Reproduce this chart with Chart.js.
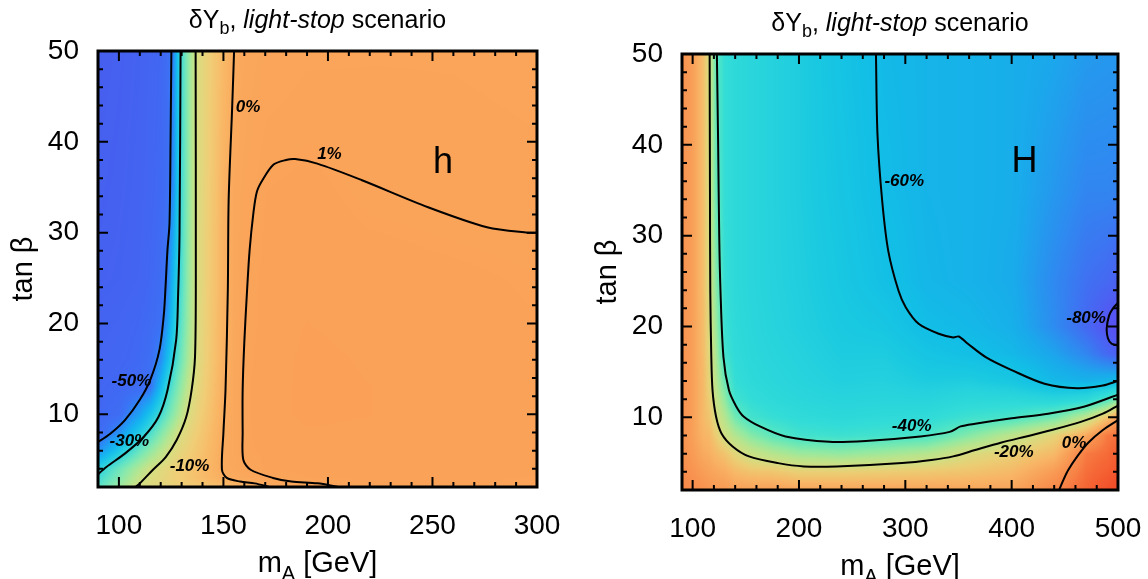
<!DOCTYPE html>
<html>
<head>
<meta charset="utf-8">
<script src="https://cdn.jsdelivr.net/npm/chart.js@4.4.1/dist/chart.umd.min.js"></script>
<style>
  html, body { margin: 0; padding: 0; background: #fff; }
  #wrap { position: relative; width: 1148px; height: 579px; }
  .panel { position: absolute; top: 0; width: 574px; height: 579px; }
</style>
</head>
<body>
<div id="wrap">
  <div class="panel" style="left:0"><canvas id="hChart" width="574" height="579"></canvas></div>
  <div class="panel" style="left:574px"><canvas id="HChart" width="574" height="579"></canvas></div>
</div>
<script>
// ---- Panel h : δY_b grid (%), rows = tan β, columns = m_A ----
const hMass = [90, 100, 110, 115, 120, 123, 126, 129, 132, 135, 138, 142, 146, 150, 155, 160, 170, 190, 220, 260, 300];
const hTanb = [2, 3, 4, 6, 8, 10, 13, 16, 20, 25, 35, 50];
const hDelta = [
  [-26, -17.5, -9.7, -8.9, -8.1, -7.6, -7.1, -6.6, -6.1, -5.6, -5.2, -4.5, -3.9, -3.2, -2.4, -1.6, 0, 0.8, 1.05, 1.06, 1.04],
  [-29.5, -21.3, -12.6, -9.5, -8.2, -7.4, -6.6, -5.9, -5.1, -4.3, -3.5, -2.5, -1.5, -0.4, 0.15, 0.4, 0.85, 1.05, 1.08, 1.07, 1.05],
  [-32.6, -23.9, -15.2, -10.9, -8.8, -7.9, -7.0, -6.1, -5.2, -4.3, -3.4, -2.2, -1.0, 0.15, 0.4, 0.8, 1.08, 1.12, 1.12, 1.1, 1.07],
  [-46, -35.3, -24.5, -19.5, -14.5, -11.5, -9.4, -8.2, -7.0, -5.8, -4.6, -3.1, -1.5, 0.1, 0.5, 1.01, 1.1, 1.15, 1.15, 1.12, 1.08],
  [-53, -45.9, -34.2, -28.2, -21.7, -17.8, -13.9, -10, -8.6, -7.1, -5.7, -3.8, -1.9, 0, 0.5, 1.02, 1.12, 1.17, 1.16, 1.12, 1.08],
  [-53.5, -52, -43.1, -36.2, -29.2, -24.6, -20, -15.4, -10.8, -8.6, -6.9, -4.7, -2.5, -0.3, 0.5, 1.02, 1.14, 1.2, 1.18, 1.13, 1.09],
  [-54, -53.2, -52, -50.3, -38.8, -31.3, -25.7, -20.4, -15.2, -10, -8.1, -5.6, -3.1, -0.6, 0.5, 1.02, 1.14, 1.2, 1.18, 1.13, 1.09],
  [-54.5, -54, -53, -51.3, -46.3, -38.8, -31.3, -24.9, -18.8, -12.7, -8.9, -6.2, -3.6, -1.0, 0.4, 1.0, 1.13, 1.2, 1.17, 1.12, 1.08],
  [-55, -54.5, -53.5, -52.5, -50.8, -44.3, -35.7, -27.7, -20.8, -13.9, -9.1, -6.4, -3.8, -1.2, 0.4, 0.95, 1.12, 1.18, 1.15, 1.1, 1.06],
  [-56, -55.5, -54.5, -53.5, -52, -49.5, -39, -30, -22, -14.4, -9.3, -6.5, -4, -1, 0.5, 0.95, 1.1, 1.15, 1.12, 1.08, 1.04],
  [-56.5, -56, -55, -54, -53, -51.5, -46, -32, -23, -14.7, -9.3, -6.8, -4.2, -1.3, 0.5, 0.8, 1.05, 1.1, 1.0, 0.97, 0.95],
  [-57, -56.5, -55.5, -54.5, -53.5, -52, -47.5, -32, -23, -14.7, -9.3, -7, -4.8, -2.6, 0, 0.5, 0.8, 0.9, 0.92, 0.92, 0.9]
];

// contour lines of panel h, [m_A, tan β]
const hMinus50 = [[89, 6.8], [96, 7.9], [103, 9.4], [110, 11.6], [115, 13.8], [119.4, 17.1], [121.5, 21], [122.3, 24], [123.2, 28], [124.2, 31], [124.7, 40], [125.1, 50]];
const hMinus30 = [[89, 3.2], [94, 4.2], [103, 5.7], [111.8, 7.5], [118.9, 9.7], [123.3, 12.7], [127.4, 18.2], [128.3, 23], [129, 30], [129.5, 50]];
const hMinus10 = [[108, 2], [110, 2.4], [116.3, 3.9], [122.4, 5.3], [127.7, 7.2], [132.2, 9.7], [134.8, 12.7], [136.4, 16.3], [136.8, 25], [136.7, 50]];
const hZero = [[172, 2], [165, 2.4], [158, 2.6], [151.6, 3.0], [149.3, 3.9], [150, 8], [151, 12.7], [152.1, 23.6], [152.5, 33.6], [154.2, 43.9], [155.1, 50]];
const hPlus1 = [[205, 2], [195, 2.4], [182.5, 2.6], [173.7, 3.0], [163, 3.9], [159.5, 5], [159.2, 8], [159.2, 12.7], [160, 18], [161.3, 23.6], [162.5, 28], [164.3, 32.1], [166, 34.5], [168.7, 35.8], [174, 37.5], [179.9, 38], [184.3, 38.1], [194.9, 37.6], [216, 35.8], [247.9, 32.8], [276.1, 30.6], [295.6, 30], [300, 30]];
const hLabelText = ['-50%', '-30%', '-10%', '0%', '1%'];
const hLabelMass = [106, 105, 133.8, 161.8, 200.7];
const hLabelTanb = [13.6, 7.0, 4.3, 43.8, 38.6];

// ---- Panel H : δY_b grid (%), one column per m_A, values over tan β ----
const HMass = [90, 100, 110, 116, 122, 130, 140, 155, 175, 200, 240, 280, 320, 360, 400, 440, 470, 490, 500];
const HTanb = [2, 4, 6, 8, 10, 12, 14, 17, 20, 25, 35, 50];
const HDeltaCols = [
  [-1, -2, -2.5, -3, -3, -3, -3, -3, -3, -3, -3, -3],
  [-2, -3.5, -5, -6, -6, -6, -6, -6, -6, -6, -6, -6],
  [-3, -5.5, -8, -10, -11, -11, -11, -11.5, -11.5, -12, -12, -12],
  [-4, -6.5, -9, -11, -13.5, -15.5, -17, -18, -19, -20, -20, -20],
  [-4.5, -7.5, -11, -15, -19.8, -22.5, -25, -27, -29, -32, -36, -37],
  [-5, -8.5, -13, -20.5, -25.4, -30.4, -35.3, -41.5, -43, -44, -44.5, -44.5],
  [-6, -11, -17, -25.9, -34.5, -42, -44.5, -46, -46.5, -47, -47, -47],
  [-6, -13, -21.8, -31.9, -41.5, -45, -47, -48, -48.5, -49, -49, -49],
  [-6, -13.5, -25.4, -37.3, -44, -47, -48.5, -49.5, -50.3, -50.8, -51, -51],
  [-7, -15.5, -28.9, -41.5, -46, -48.5, -50, -51, -52, -52.5, -53, -53],
  [-7, -15.5, -30.4, -42.5, -47.5, -50, -52, -53.5, -54.5, -55.5, -56.5, -57.5],
  [-7, -15, -28.3, -41.5, -46.5, -49.5, -51.5, -53.5, -56, -58.8, -60.3, -61.2],
  [-7, -14, -25.5, -40, -46, -50, -53.5, -57, -60.2, -62, -62.5, -62.5],
  [-7, -13, -19, -32, -42.5, -48, -53, -59.2, -61.5, -63, -63, -63],
  [-7, -11, -15.5, -24.2, -40.4, -48, -55.5, -61.5, -63.5, -64.5, -64, -64],
  [-0.8, -5, -11, -16.5, -34.4, -49.7, -61.5, -66, -70, -70.5, -68, -65.5],
  [4, 2.5, 1, -7.9, -24, -47.6, -63, -71, -76, -74.5, -71, -67.5],
  [8, 5, 3, 1.2, -13, -40, -62, -76, -80.5, -76, -71, -68],
  [10, 7, 5, 2.5, -5, -33.3, -61, -78, -81.5, -77.5, -71.5, -68]
];

const HMinus20 = [[116, 50], [116.3, 35], [116.6, 23.9], [117.5, 17], [118.7, 13], [122, 10.1], [127.3, 8.2], [137.6, 6.8], [153, 5.7], [180.4, 4.96], [204.5, 4.6], [235.3, 4.6], [297, 4.96], [324.5, 5.3], [345, 5.7], [365.7, 6.4], [389.7, 7.2], [413.7, 7.9], [437.7, 8.6], [465, 9.5], [485.8, 10.4], [500, 11.3]];
const HMinus40 = [[122.8, 50], [124, 40], [125, 30], [126.2, 23.9], [129, 16.6], [134.1, 13], [141, 11.2], [147.9, 10.1], [163.3, 9], [187.3, 7.9], [228.5, 7.3], [262.8, 7.4], [314.2, 7.9], [341.7, 8.4], [352, 9], [365.7, 9.3], [400, 9.9], [434.3, 10.4], [468.6, 11.2], [500, 12.5]];
const HMinus60 = [[272.4, 50], [273.8, 41.2], [278.2, 33.9], [284, 28.3], [293.7, 23.9], [300.5, 22.1], [312.5, 20.3], [331.4, 19.2], [345.1, 18.8], [350.3, 18.9], [358.8, 18.1], [376, 16.6], [400, 15.2], [430.9, 13.7], [461.7, 13.2], [485.8, 13.5], [500, 14]];
const HMinus80 = [[500, 22.6], [495.3, 22], [491.6, 21.2], [489.4, 19.8], [490.5, 18.7], [494, 18.1], [500, 17.9]];
const HZero = [[444.6, 2], [449, 3.2], [453.2, 4.2], [461.7, 5.7], [472, 7.2], [485.8, 8.6], [500, 9.7]];
const HLabelText = ['-60%', '-80%', '-40%', '-20%', '0%'];
const HLabelMass = [299, 470, 306, 402, 458.7];
const HLabelTanb = [36, 20.9, 9.0, 6.1, 7.1];

// tick labels
const hMassTicks = [100, 150, 200, 250, 300];
const HMassTicks = [100, 200, 300, 400, 500];
const tanbTicks = [10, 20, 30, 40, 50];

const FONT = '"Liberation Sans", Arial, Helvetica, sans-serif';
Chart.defaults.font.family = FONT;
Chart.defaults.color = '#000';

// colour scales (value in %, rgb)
const hScaleVals = [-58, -54, -50, -45, -40, -35, -30, -25, -20, -15, -10, -6, -3, 0, 1, 2];
const hScaleCols = [[72,92,238],[66,102,242],[58,115,245],[35,150,245],[20,180,240],[30,200,230],[60,215,215],[100,228,195],[140,233,170],[180,230,145],[215,222,130],[240,205,118],[248,188,105],[250,171,94],[250,164,89],[250,150,80]];
const HScaleVals = [-85, -80, -75, -70, -65, -60, -55, -50, -45, -40, -35, -30, -25, -20, -15, -10, -5, 0, 4, 8, 10];
const HScaleCols = [[95,70,240],[85,85,242],[65,110,242],[45,140,240],[25,170,235],[18,190,230],[25,200,225],[40,212,220],[50,220,215],[75,228,200],[110,232,180],[150,233,160],[185,228,140],[210,222,130],[235,205,115],[248,180,100],[248,155,85],[247,130,70],[245,100,52],[242,80,42],[240,75,40]];

function colourOf(v, vals, cols) {
  if (v <= vals[0]) return cols[0];
  for (let k = 1; k < vals.length; k++) {
    if (v <= vals[k]) {
      const t = (v - vals[k - 1]) / (vals[k] - vals[k - 1]);
      const a = cols[k - 1], b = cols[k];
      return [a[0] + (b[0] - a[0]) * t, a[1] + (b[1] - a[1]) * t, a[2] + (b[2] - a[2]) * t];
    }
  }
  return cols[cols.length - 1];
}

function locate(grid, v) {
  let i = 0;
  while (i < grid.length - 2 && v > grid[i + 1]) i++;
  const t = (v - grid[i]) / (grid[i + 1] - grid[i]);
  return [i, Math.max(0, Math.min(1, t))];
}

// shaded map: every pixel of the plot area is coloured from the grid through the scales
function heatmapPlugin(field) {
  return {
    id: 'heatmap',
    beforeDatasetsDraw(chart) {
      const { ctx, chartArea: a, scales: { x, y } } = chart;
      const w = Math.round(a.right - a.left), h = Math.round(a.bottom - a.top);
      const off = document.createElement('canvas');
      off.width = w; off.height = h;
      const octx = off.getContext('2d');
      const img = octx.createImageData(w, h);
      const cols = [], rows = [];
      for (let px = 0; px < w; px++) cols.push(locate(field.mass, x.getValueForPixel(a.left + px + 0.5)));
      for (let py = 0; py < h; py++) rows.push(locate(field.tanb, y.getValueForPixel(a.top + py + 0.5)));
      for (let py = 0; py < h; py++) {
        const [j, ty] = rows[py];
        for (let px = 0; px < w; px++) {
          const [i, tx] = cols[px];
          const z00 = field.at(i, j), z10 = field.at(i + 1, j), z01 = field.at(i, j + 1), z11 = field.at(i + 1, j + 1);
          const v = (z00 * (1 - tx) + z10 * tx) * (1 - ty) + (z01 * (1 - tx) + z11 * tx) * ty;
          const c = colourOf(v, field.vals, field.cols);
          const o = (py * w + px) * 4;
          img.data[o] = c[0]; img.data[o + 1] = c[1]; img.data[o + 2] = c[2]; img.data[o + 3] = 255;
        }
      }
      octx.putImageData(img, 0, 0);
      ctx.drawImage(off, a.left, a.top, w, h);
    }
  };
}

function drawRich(ctx, parts, cx, baseline) {
  let total = 0;
  parts.forEach(p => { ctx.font = p.font; p.w = ctx.measureText(p.text).width; total += p.w; });
  let xx = cx - total / 2;
  ctx.textAlign = 'left';
  ctx.textBaseline = 'alphabetic';
  parts.forEach(p => { ctx.font = p.font; ctx.fillText(p.text, xx, baseline + (p.dy || 0)); xx += p.w; });
}

// frame, inward ticks, contour labels, titles
function decorPlugin(cfg) {
  return {
    id: 'decor',
    afterDatasetsDraw(chart) {
      const { ctx, chartArea: a, scales: { x, y } } = chart;
      ctx.save();
      ctx.fillStyle = '#000';
      ctx.textAlign = 'center';
      ctx.textBaseline = 'middle';
      ctx.font = 'italic bold 17px ' + FONT;
      cfg.labelText.forEach((t, k) => ctx.fillText(t, x.getPixelForValue(cfg.labelMass[k]), y.getPixelForValue(cfg.labelTanb[k])));
      ctx.font = '36px ' + FONT;
      ctx.textBaseline = 'alphabetic';
      ctx.fillText(cfg.tag, x.getPixelForValue(cfg.tagAt[0]), y.getPixelForValue(cfg.tagAt[1]));

      ctx.strokeStyle = '#000';
      ctx.lineWidth = 2;
      ctx.beginPath();
      const tickX = (v, len) => {
        const px = x.getPixelForValue(v);
        ctx.moveTo(px, a.bottom); ctx.lineTo(px, a.bottom - len);
        ctx.moveTo(px, a.top); ctx.lineTo(px, a.top + len);
      };
      const tickY = (v, len) => {
        const py = y.getPixelForValue(v);
        ctx.moveTo(a.left, py); ctx.lineTo(a.left + len, py);
        ctx.moveTo(a.right, py); ctx.lineTo(a.right - len, py);
      };
      for (let v = cfg.minorX; v < x.max; v += cfg.minorX) if (v > x.min) tickX(v, 5);
      cfg.xTicks.forEach(v => tickX(v, 10));
      for (let v = 4; v < 50; v += 2) tickY(v, 5);
      tanbTicks.forEach(v => tickY(v, 10));
      ctx.stroke();
      ctx.lineWidth = 3;
      ctx.strokeRect(a.left, a.top, a.right - a.left, a.bottom - a.top);
      ctx.restore();
    },
    afterDraw(chart) {
      const { ctx, chartArea: a } = chart;
      const cx = (a.left + a.right) / 2;
      ctx.save();
      ctx.fillStyle = '#000';
      drawRich(ctx, [
        { text: 'δY', font: '25px ' + FONT },
        { text: 'b', font: '18px ' + FONT, dy: 6 },
        { text: ', ', font: '25px ' + FONT },
        { text: 'light-stop', font: 'italic 25px ' + FONT },
        { text: ' scenario', font: '25px ' + FONT }
      ], cx, a.top - 23);
      drawRich(ctx, [
        { text: 'm', font: '29px ' + FONT },
        { text: 'A', font: '20px ' + FONT, dy: 8 },
        { text: ' [GeV]', font: '29px ' + FONT }
      ], cx, a.bottom + 85);
      ctx.translate(a.left - 66, (a.top + a.bottom) / 2);
      ctx.rotate(-Math.PI / 2);
      ctx.font = '29px ' + FONT;
      ctx.textAlign = 'center';
      ctx.textBaseline = 'alphabetic';
      ctx.fillText('tan β', 0, 0);
      ctx.restore();
    }
  };
}

function makePanel(id, cfg) {
  return new Chart(document.getElementById(id), {
    type: 'scatter',
    data: {
      datasets: cfg.contours.map(c => ({
        data: c.map(p => ({ x: p[0], y: p[1] })),
        showLine: true,
        borderColor: '#000',
        borderWidth: 2,
        pointRadius: 0,
        tension: 0.3,
        fill: false
      }))
    },
    options: {
      responsive: false,
      animation: false,
      layout: { padding: cfg.padding },
      plugins: { legend: { display: false }, tooltip: { enabled: false }, title: { display: false } },
      scales: {
        x: {
          type: 'linear', min: 90, max: cfg.xMax,
          grid: { display: false, drawTicks: false }, border: { display: false },
          afterBuildTicks: s => { s.ticks = cfg.xTicks.map(v => ({ value: v })); },
          afterFit: s => { s.height = cfg.xAxisHeight; s.paddingLeft = 0; s.paddingRight = 0; },
          ticks: { font: { size: 28 }, padding: 22, maxRotation: 0, autoSkip: false, color: '#000' }
        },
        y: {
          type: 'linear', min: 2, max: 50,
          grid: { display: false, drawTicks: false }, border: { display: false },
          afterBuildTicks: s => { s.ticks = tanbTicks.map(v => ({ value: v })); },
          afterFit: s => { s.width = cfg.yAxisWidth; s.paddingTop = 0; s.paddingBottom = 0; },
          ticks: { font: { size: 28 }, padding: 19, autoSkip: false, color: '#000' }
        }
      }
    },
    plugins: [heatmapPlugin(cfg.field), decorPlugin(cfg)]
  });
}

makePanel('hChart', {
  xMax: 300, xTicks: hMassTicks, minorX: 10,
  padding: { top: 51, right: 37, left: 0, bottom: 0 }, yAxisWidth: 98, xAxisHeight: 92,
  contours: [hMinus50, hMinus30, hMinus10, hZero, hPlus1],
  labelText: hLabelText, labelMass: hLabelMass, labelTanb: hLabelTanb,
  tag: 'h', tagAt: [255, 36.6],
  field: { mass: hMass, tanb: hTanb, at: (i, j) => hDelta[j][i], vals: hScaleVals, cols: hScaleCols }
});

makePanel('HChart', {
  xMax: 500, xTicks: HMassTicks, minorX: 20,
  padding: { top: 54, right: 30, left: 0, bottom: 0 }, yAxisWidth: 108, xAxisHeight: 89,
  contours: [HMinus20, HMinus40, HMinus60, HMinus80, HZero],
  labelText: HLabelText, labelMass: HLabelMass, labelTanb: HLabelTanb,
  tag: 'H', tagAt: [412, 37],
  field: { mass: HMass, tanb: HTanb, at: (i, j) => HDeltaCols[i][j], vals: HScaleVals, cols: HScaleCols }
});
</script>
</body>
</html>
